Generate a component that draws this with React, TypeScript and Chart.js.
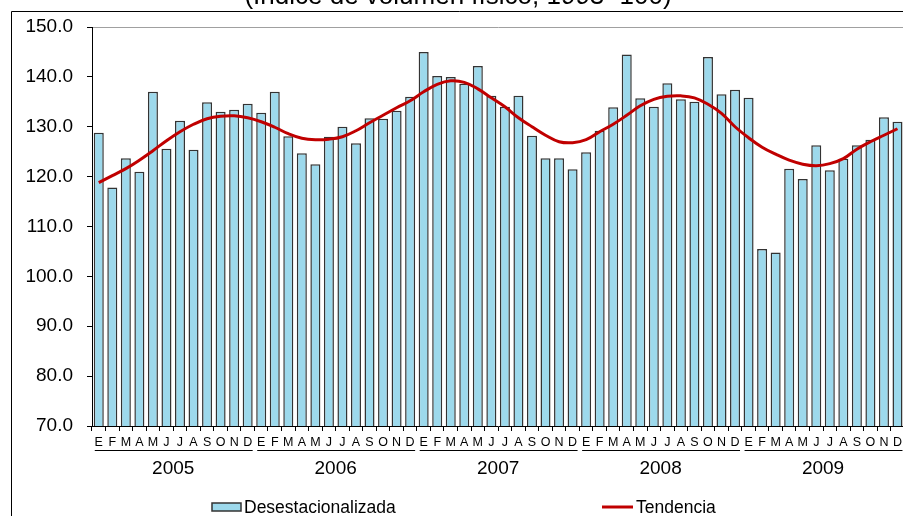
import React, { useEffect, useRef } from "react";
import { Chart, registerables } from "chart.js";

Chart.register(...registerables);

const titleText = "(Índice de volumen físico, 1993=100)";
const monthLetters = ["E", "F", "M", "A", "M", "J", "J", "A", "S", "O", "N", "D"];
const years = ["2005", "2006", "2007", "2008", "2009"];
const categories = years.flatMap(() => monthLetters);

const desestacionalizada = [
  128.8, 117.8, 123.7, 121.0, 137.0, 125.6, 131.2, 125.4, 134.9, 133.0, 133.4, 134.6,
  132.8, 137.0, 128.1, 124.7, 122.5, 128.0, 130.0, 126.7, 131.7, 131.6, 133.2, 136.0,
  145.0, 140.2, 140.0, 138.6, 142.2, 136.2, 134.0, 136.2, 128.2, 123.7, 123.7, 121.5,
  124.9, 129.2, 133.9, 144.5, 135.7, 134.0, 138.7, 135.5, 135.0, 144.0, 136.5, 137.4,
  135.8, 105.5, 104.8, 121.6, 119.5, 126.3, 121.3, 123.6, 126.3, 127.4, 131.9, 131.0,
];

const tendencia = [
  118.8, 120.2, 121.6, 123.3, 125.2, 127.2, 129.0, 130.5, 131.6, 132.1, 132.2, 131.8,
  131.0, 129.9, 128.6, 127.7, 127.4, 127.5, 128.0, 129.2, 130.8, 132.3, 133.8, 135.2,
  137.0, 138.5, 139.2, 138.9, 137.6, 135.8, 134.0, 131.8, 130.0, 128.3, 127.0, 126.8,
  127.4, 129.0, 130.5, 132.3, 134.2, 135.5, 136.1, 136.2, 135.8, 134.5, 132.7, 130.0,
  127.8, 125.9, 124.5, 123.3, 122.5, 122.2, 122.6, 123.6, 125.5, 127.0, 128.3, 129.6,
];

const seriesNames = ["Desestacionalizada", "Tendencia"];
const yMin = 70;
const yMax = 150;
const yStep = 10;

const FONT = "'Liberation Sans', Arial, Helvetica, sans-serif";
const BAR_FILL = "#9dd9ec";
const BAR_BORDER = "#333333";
const LINE_COLOR = "#c00000";

const decorPlugin = {
  id: "decor",
  afterDraw(chart: any) {
    const { ctx, scales } = chart;
    const x = scales.x;
    ctx.save();
    // outer frame
    ctx.strokeStyle = "#000";
    ctx.lineWidth = 1;
    ctx.beginPath();
    ctx.moveTo(11.5, 600);
    ctx.lineTo(11.5, 11.5);
    ctx.lineTo(1200, 11.5);
    ctx.stroke();
    // title (cropped at top)
    ctx.fillStyle = "#000";
    ctx.font = `26px ${FONT}`;
    ctx.textAlign = "center";
    ctx.textBaseline = "alphabetic";
    ctx.fillText(titleText, 458, 4);
    // years with underlines
    ctx.font = `19px ${FONT}`;
    years.forEach((yr, i) => {
      const a = x.getPixelForValue(i * 12);
      const b = x.getPixelForValue(i * 12 + 11);
      ctx.beginPath();
      ctx.moveTo(a - 4, 450.5);
      ctx.lineTo(b + 5, 450.5);
      ctx.stroke();
      ctx.fillText(yr, (a + b) / 2, 474);
    });
    // legend
    ctx.fillStyle = BAR_FILL;
    ctx.fillRect(212, 503, 29, 8);
    ctx.strokeStyle = BAR_BORDER;
    ctx.lineWidth = 1.5;
    ctx.strokeRect(212, 503, 29, 8);
    ctx.fillStyle = "#000";
    ctx.font = `17.5px ${FONT}`;
    ctx.textAlign = "left";
    ctx.textBaseline = "middle";
    ctx.fillText(seriesNames[0], 244, 508);
    ctx.strokeStyle = LINE_COLOR;
    ctx.lineWidth = 3;
    ctx.beginPath();
    ctx.moveTo(602, 507);
    ctx.lineTo(633, 507);
    ctx.stroke();
    ctx.fillText(seriesNames[1], 636, 508);
    ctx.restore();
  },
};

export default function App() {
  const ref = useRef<HTMLCanvasElement | null>(null);
  useEffect(() => {
    if (!ref.current) return;
    const chart = new Chart(ref.current, {
      type: "bar",
      data: {
        labels: categories,
        datasets: [
          {
            type: "line",
            label: seriesNames[1],
            data: tendencia,
            borderColor: LINE_COLOR,
            borderWidth: 3,
            pointRadius: 0,
            tension: 0.4,
            fill: false,
            order: 0,
          } as any,
          {
            type: "bar",
            label: seriesNames[0],
            data: desestacionalizada,
            backgroundColor: BAR_FILL,
            borderColor: BAR_BORDER,
            borderWidth: 1.5,
            categoryPercentage: 1,
            barPercentage: 0.74,
            order: 1,
          } as any,
        ],
      },
      options: {
        animation: false,
        responsive: true,
        maintainAspectRatio: false,
        layout: { padding: { left: 0, top: 27, right: 0, bottom: 65 } },
        plugins: {
          legend: { display: false },
          title: { display: false },
          tooltip: { enabled: false },
        },
        scales: {
          x: {
            offset: true,
            afterFit: (s: any) => {
              s.height = 25;
            },
            grid: {
              display: true,
              offset: true,
              drawOnChartArea: false,
              drawTicks: true,
              tickLength: 5,
              color: "#000",
            },
            border: { display: true, color: "#000", width: 1 },
            ticks: {
              autoSkip: false,
              maxRotation: 0,
              minRotation: 0,
              padding: 4,
              color: "#000",
              font: { family: FONT, size: 12.5 },
            },
          },
          y: {
            min: yMin,
            max: yMax,
            afterFit: (s: any) => {
              s.width = 92;
            },
            grid: {
              color: (c: any) => (c.tick && c.tick.value === yMax ? "#a0a0a0" : "rgba(0,0,0,0)"),
              tickColor: "#000",
              tickLength: 5,
              drawTicks: true,
            },
            border: { display: true, color: "#000", width: 1 },
            ticks: {
              stepSize: yStep,
              padding: 14,
              color: "#000",
              font: { family: FONT, size: 19 },
              callback: (v: any) => Number(v).toFixed(1),
            },
          },
        },
      },
      plugins: [decorPlugin],
    });
    return () => chart.destroy();
  }, []);
  return (
    <div
      style={{
        position: "absolute",
        left: 0,
        top: 0,
        width: 903,
        height: 516,
        overflow: "hidden",
        background: "#fff",
      }}
    >
      <div style={{ position: "relative", width: 906, height: 516 }}>
        <canvas ref={ref} />
      </div>
    </div>
  );
}
